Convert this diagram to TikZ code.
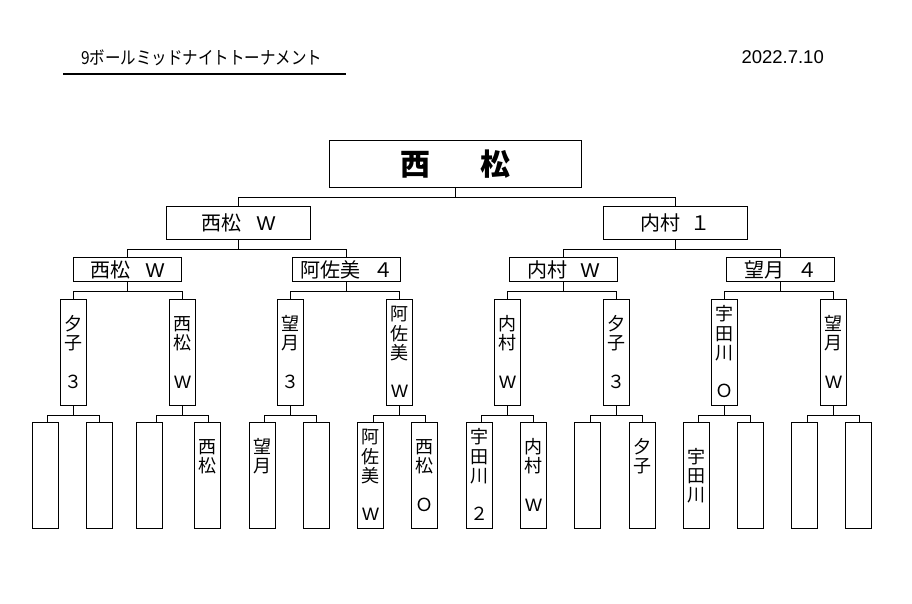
\documentclass[tikz,border=0pt]{standalone}
\usepackage{fontspec}
\newfontfamily\jp{Noto Sans CJK JP}
\newfontfamily\ar{Liberation Sans}
\usetikzlibrary{calc}
\newcommand\vl[1]{\rule[-2.85pt]{0pt}{19.3pt}#1}
\newcommand\Wl{{\ar W}}
\tikzset{
  box/.style={draw=black, line width=1.2pt, inner sep=0pt, fill=white},
  topbox/.style={box, minimum width=252pt, minimum height=47pt, font={\fontsize{30}{30}\jp\bfseries}},
  hboxa/.style={box, minimum width=144pt, minimum height=33pt, font={\fontsize{20}{20}\jp}},
  hboxb/.style={box, minimum width=108pt, minimum height=24pt, font={\fontsize{20}{20}\jp}},
  vbox/.style={box, minimum width=26pt, minimum height=106pt, align=center, font={\fontsize{18}{19.3}\jp}},
  link/.style={draw=black, line width=1pt},
}
\newcommand\pairlink[3]{%
  \draw[link] (#1.south) -- ++(0,9) coordinate (#1m);
  \draw[link] ([xshift=-26pt]#1m) coordinate (#1l) -- ([xshift=26pt]#1m) coordinate (#1r);
  \draw[link] (#1l) -- (#1l |- #2.north);
  \draw[link] (#1r) -- (#1r |- #3.north);
}
\begin{document}
\begin{tikzpicture}[x=1pt, y=-1pt]
\fill[white] (0,0) rectangle (912,604);
\useasboundingbox (0,0) rectangle (912,604);

% header
\node[anchor=west, inner sep=0pt, font={\fontsize{18}{18}\jp}] (title) at (81,57.5) {\scalebox{0.86}[1]{9ボールミッドナイトトーナメント}};
\coordinate (ula) at (63,74);
\coordinate (ulb) at (346,74);
\draw[line width=2pt] (ula) -- (ulb);
\node[anchor=east, inner sep=0pt, font={\fontsize{18.5}{18.5}\ar}] (date) at (824,57.3) {2022.7.10};

% champion
\node[topbox] (top) at (455.5,164) {西\hspace{50pt}松};

% level 2
\node[hboxa] (s1) at (238.5,223) {西松\hspace{15pt}\Wl};
\node[hboxa] (s2) at (675.5,223) {内村\hspace{10pt}１};

% level 3
\node[hboxb] (t1) at (127.5,269.5) {西松\hspace{15pt}\Wl};
\node[hboxb] (t2) at (346.5,269.5) {阿佐美\hspace{13pt}４};
\node[hboxb] (t3) at (563.5,269.5) {内村\hspace{13pt}\Wl};
\node[hboxb] (t4) at (780.5,269.5) {望月\hspace{13pt}４};

% level 4
\node[vbox] (q1) at (73.5,352.5) {\vl{夕}\\\vl{子}\\\vl{}\\\vl{３}};
\node[vbox] (q2) at (182.5,352.5) {\vl{西}\\\vl{松}\\\vl{}\\\vl{\Wl}};
\node[vbox] (q3) at (290.5,352.5) {\vl{望}\\\vl{月}\\\vl{}\\\vl{３}};
\node[vbox] (q4) at (399.5,352.5) {\vl{阿}\\\vl{佐}\\\vl{美}\\\vl{}\\\vl{\Wl}};
\node[vbox] (q5) at (507.5,352.5) {\vl{内}\\\vl{村}\\\vl{}\\\vl{\Wl}};
\node[vbox] (q6) at (616.5,352.5) {\vl{夕}\\\vl{子}\\\vl{}\\\vl{３}};
\node[vbox] (q7) at (724.5,352.5) {\vl{宇}\\\vl{田}\\\vl{川}\\\vl{}\\\vl{Ｏ}};
\node[vbox] (q8) at (833.5,352.5) {\vl{望}\\\vl{月}\\\vl{}\\\vl{\Wl}};

% level 5
\node[vbox] (r1) at (45.5,475.5) {};
\node[vbox] (r2) at (99.5,475.5) {};
\node[vbox] (r3) at (149.5,475.5) {};
\node[vbox] (r4) at (207.5,475.5) {\vl{西}\\\vl{松}\\\vl{}\\\vl{}};
\node[vbox] (r5) at (262.5,475.5) {\vl{望}\\\vl{月}\\\vl{}\\\vl{}};
\node[vbox] (r6) at (316.5,475.5) {};
\node[vbox] (r7) at (370.5,475.5) {\vl{阿}\\\vl{佐}\\\vl{美}\\\vl{}\\\vl{\Wl}};
\node[vbox] (r8) at (424.5,475.5) {\vl{西}\\\vl{松}\\\vl{}\\\vl{Ｏ}};
\node[vbox] (r9) at (479.5,475.5) {\vl{宇}\\\vl{田}\\\vl{川}\\\vl{}\\\vl{２}};
\node[vbox] (r10) at (533.5,475.5) {\vl{内}\\\vl{村}\\\vl{}\\\vl{\Wl}};
\node[vbox] (r11) at (587.5,475.5) {};
\node[vbox] (r12) at (642.5,475.5) {\vl{夕}\\\vl{子}\\\vl{}\\\vl{}};
\node[vbox] (r13) at (696.5,475.5) {\vl{宇}\\\vl{田}\\\vl{川}};
\node[vbox] (r14) at (750.5,475.5) {};
\node[vbox] (r15) at (804.5,475.5) {};
\node[vbox] (r16) at (858.5,475.5) {};

% connectors level 1 -> 2
\draw[link] (top.south) -- ++(0,9) -| (s1.north);
\draw[link] (top.south) -- ++(0,9) -| (s2.north);
% level 2 -> 3
\draw[link] (s1.south) -- ++(0,9) -| (t1.north);
\draw[link] (s1.south) -- ++(0,9) -| (t2.north);
\draw[link] (s2.south) -- ++(0,9) -| (t3.north);
\draw[link] (s2.south) -- ++(0,9) -| (t4.north);
% level 3 -> 4
\draw[link] (t1.south) -- ++(0,9) -| (q1.north);
\draw[link] (t1.south) -- ++(0,9) -| (q2.north);
\draw[link] (t2.south) -- ++(0,9) -| (q3.north);
\draw[link] (t2.south) -- ++(0,9) -| (q4.north);
\draw[link] (t3.south) -- ++(0,9) -| (q5.north);
\draw[link] (t3.south) -- ++(0,9) -| (q6.north);
\draw[link] (t4.south) -- ++(0,9) -| (q7.north);
\draw[link] (t4.south) -- ++(0,9) -| (q8.north);
% level 4 -> 5
\pairlink{q1}{r1}{r2}
\pairlink{q2}{r3}{r4}
\pairlink{q3}{r5}{r6}
\pairlink{q4}{r7}{r8}
\pairlink{q5}{r9}{r10}
\pairlink{q6}{r11}{r12}
\pairlink{q7}{r13}{r14}
\pairlink{q8}{r15}{r16}
\end{tikzpicture}
\end{document}
